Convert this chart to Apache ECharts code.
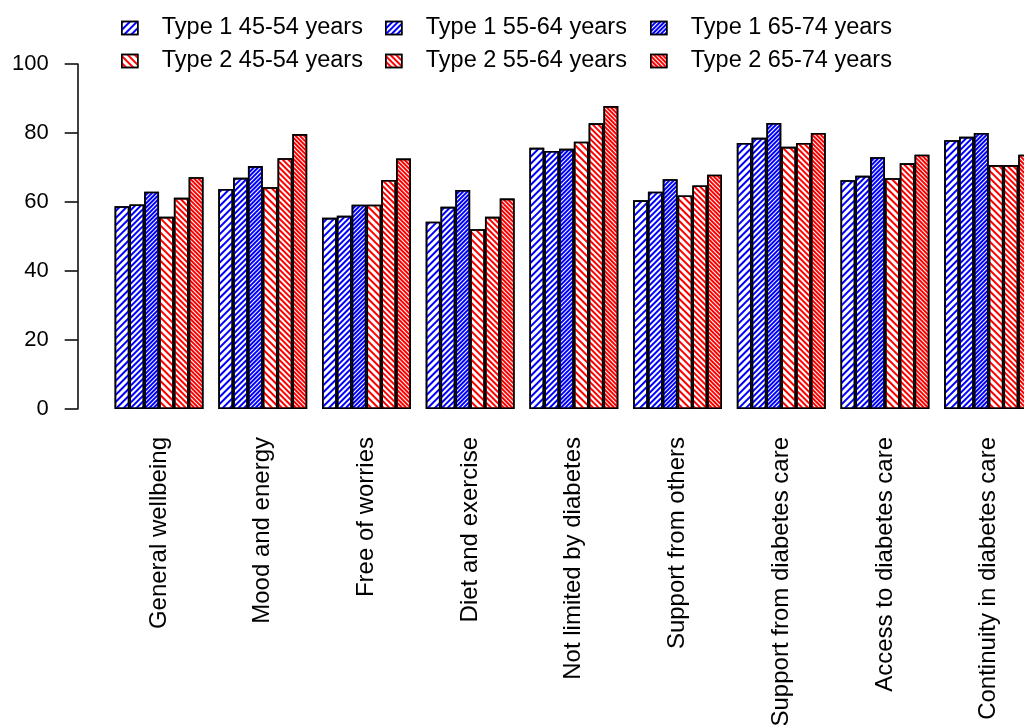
<!DOCTYPE html>
<html>
<head>
<meta charset="utf-8">
<script src="https://cdn.jsdelivr.net/npm/echarts@6/dist/echarts.min.js"></script>
<style>html,body{margin:0;padding:0;background:#fff;}#c{width:1024px;height:725px;}</style>
</head>
<body>
<div id="c"></div>
<script>
var categories = ["General wellbeing", "Mood and energy", "Free of worries", "Diet and exercise",
  "Not limited by diabetes", "Support from others", "Support from diabetes care",
  "Access to diabetes care", "Continuity in diabetes care"];
var seriesNames = ["Type 1 45-54 years", "Type 1 55-64 years", "Type 1 65-74 years",
  "Type 2 45-54 years", "Type 2 55-64 years", "Type 2 65-74 years"];
var type1_45_54 = [58.8, 63.8, 55.4, 54.3, 75.7, 60.5, 77.1, 66.3, 77.9];
var type1_55_64 = [59.3, 67.0, 56.0, 58.6, 74.8, 63.0, 78.6, 67.6, 78.9];
var type1_65_74 = [63.0, 70.4, 59.2, 63.5, 75.4, 66.6, 82.9, 73.0, 80.0];
var type2_45_54 = [55.7, 64.3, 59.2, 52.1, 77.5, 61.9, 76.0, 66.9, 70.7];
var type2_55_64 = [61.2, 72.7, 66.4, 55.7, 82.8, 64.8, 77.1, 71.2, 70.7];
var type2_65_74 = [67.2, 79.7, 72.6, 61.0, 87.8, 67.9, 80.0, 73.7, 73.7];
var yTicks = [0, 20, 40, 60, 80, 100];

var values = [type1_45_54, type1_55_64, type1_65_74, type2_45_54, type2_55_64, type2_65_74];
var FONT = "'Liberation Sans', Arial, Helvetica, sans-serif";
var BLUE = '#0000ff', RED = '#ff0000';
var hatch = [
  {color: BLUE, rot: -Math.PI / 4, dy: [2, 2.5]},
  {color: BLUE, rot: -Math.PI / 4, dy: [1.4, 1.4]},
  {color: BLUE, rot: -Math.PI / 4, dy: [1.4, 0.9]},
  {color: RED, rot: Math.PI / 4, dy: [2, 2.5]},
  {color: RED, rot: Math.PI / 4, dy: [1.4, 1.4]},
  {color: RED, rot: Math.PI / 4, dy: [1.4, 0.9]}
];
var series = seriesNames.map(function (n, i) {
  return {
    name: n, type: 'bar', data: values[i],
    barGap: '0%', barCategoryGap: '14.29%',
    itemStyle: {
      color: '#ffffff', borderColor: '#000', borderWidth: 1.6,
      decal: {symbol: 'rect', symbolSize: 1, color: hatch[i].color,
        dashArrayX: [1, 0], dashArrayY: hatch[i].dy, rotation: hatch[i].rot}
    },
    emphasis: {disabled: true}
  };
});
var colLeft = [121, 385, 650];
var rowTop = [16, 49];
var legends = seriesNames.map(function (n, i) {
  return {
    data: [{name: n, icon: 'rect'}], left: colLeft[i % 3], top: rowTop[Math.floor(i / 3)],
    padding: 0, itemWidth: 16, itemHeight: 13, selectedMode: false,
    itemStyle: {borderColor: '#000', borderWidth: 1.5},
    textStyle: {fontFamily: FONT, fontSize: 23.5, color: '#000', padding: [0, 0, 0, 19]}
  };
});
var chart = echarts.init(document.getElementById('c'), null, {renderer: 'canvas'});
chart.setOption({
  animation: false,
  backgroundColor: '#fff',
  legend: legends,
  grid: {left: 107.2, right: -16.5, top: 64, bottom: 316, containLabel: false, outerBoundsMode: 'none'},
  xAxis: {
    type: 'category', data: categories,
    axisLine: {show: false}, axisTick: {show: false},
    axisLabel: {rotate: 90, margin: 28, interval: 0, fontFamily: FONT, fontSize: 24, color: '#000'}
  },
  yAxis: {
    type: 'value', min: 0, max: 100, interval: 20, offset: 29.5,
    splitLine: {show: false},
    axisLine: {show: true, lineStyle: {color: '#000', width: 1.5}},
    axisTick: {show: true, length: 13, lineStyle: {color: '#000', width: 1.5}},
    axisLabel: {margin: 29, fontFamily: FONT, fontSize: 22, color: '#000',
      formatter: function (v) { return yTicks.indexOf(v) >= 0 ? String(v) : ''; }}
  },
  series: series
});
</script>
</body>
</html>
